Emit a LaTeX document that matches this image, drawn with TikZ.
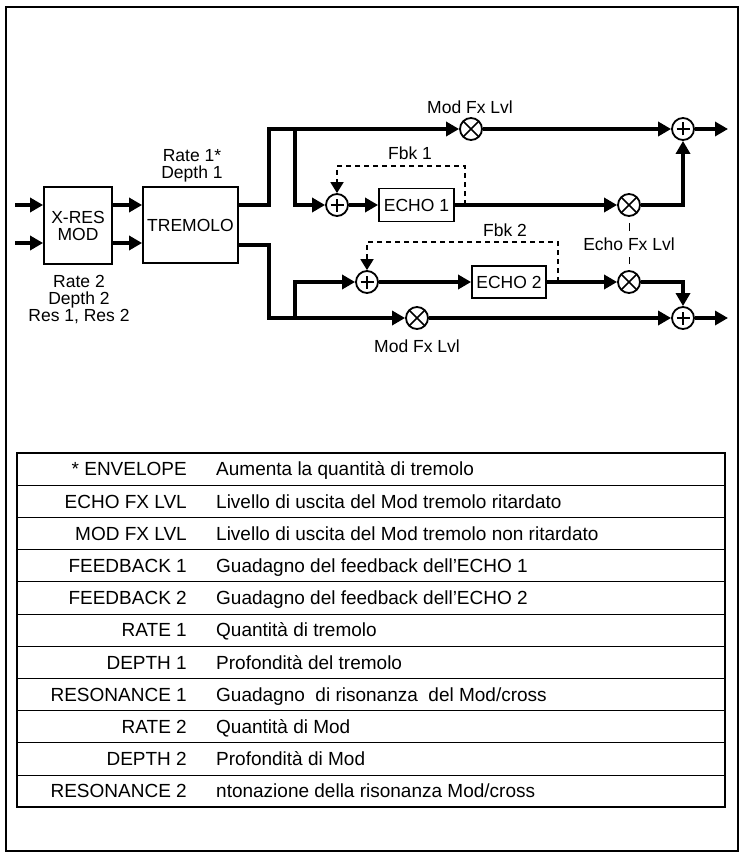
\documentclass[tikz,border=0pt]{standalone}
\usepackage{fontspec}
\setmainfont{Liberation Sans}
\usetikzlibrary{arrows.meta}

\begin{document}
\begin{tikzpicture}[x=1pt, y=-1pt,
    block/.style={rectangle, draw, line width=1.8pt, inner sep=0pt, align=center, font=\fontsize{17.5}{17}\selectfont},
    sumnode/.style={circle, draw, line width=1.8pt, minimum size=22pt, inner sep=0pt,
        path picture={\draw[line width=1.5pt]
            ([xshift=-6.5pt]path picture bounding box.center) -- ([xshift=6.5pt]path picture bounding box.center)
            ([yshift=-6.5pt]path picture bounding box.center) -- ([yshift=6.5pt]path picture bounding box.center);}},
    multnode/.style={circle, draw, line width=1.8pt, minimum size=22pt, inner sep=0pt,
        path picture={\draw[line width=1.5pt]
            (path picture bounding box.north west) -- (path picture bounding box.south east)
            (path picture bounding box.north east) -- (path picture bounding box.south west);}},
    txt/.style={align=center, inner sep=1pt, font=\fontsize{17.5}{17}\selectfont},
    signal/.style={line width=4pt, -{Triangle[length=13pt,width=14pt]}},
    fbk/.style={line width=1.8pt, dash pattern=on 5pt off 4pt, -{Triangle[length=11pt,width=13pt]}},
    cell/.style={inner sep=0pt, text height=13.5pt, text depth=0pt, font=\fontsize{19}{21}\selectfont}
]
    \useasboundingbox (0,0) rectangle (742,853);
    \draw[line width=2.5pt] (6,7) rectangle (738,851);

    % The processing blocks
    \node[block, minimum width=68pt, minimum height=77pt] (xres) at (78,225.5) {X-RES\\MOD};
    \node[block, minimum width=95pt, minimum height=76pt] (trem) at (190.5,225) {TREMOLO};
    \node[block, minimum width=75pt, minimum height=33pt] (e1) at (416.5,205) {ECHO 1};
    \node[block, minimum width=74pt, minimum height=32pt] (e2) at (509,282) {ECHO 2};

    % Sums and levels
    \node[sumnode] (s1) at (337,205) {};
    \node[sumnode] (s2) at (367,282) {};
    \node[sumnode] (st) at (683,129) {};
    \node[sumnode] (sb) at (683,318) {};
    \node[multnode] (mt) at (471,129) {};
    \node[multnode] (mb) at (417,318) {};
    \node[multnode] (me1) at (629,205) {};
    \node[multnode] (me2) at (629,282) {};

    % Labels
    \node[txt] (par1) at (192,165.5) {Rate 1*\\Depth 1};
    \node[txt] (par2) at (79,300) {Rate 2\\Depth 2\\Res 1, Res 2};
    \node[txt] (lmt) at (470,107) {Mod Fx Lvl};
    \node[txt] (lmb) at (417,346) {Mod Fx Lvl};
    \node[txt] (lf1) at (410,153) {Fbk 1};
    \node[txt] (lf2) at (505,230) {Fbk 2};
    \node[txt, inner sep=6pt] (lefx) at (629,244) {Echo Fx Lvl};

    % Free ends
    \coordinate (in1) at (15,205);
    \coordinate (in2) at (15,243);
    \coordinate (sp1) at (269,129);
    \coordinate (sp2) at (269,318);
    \coordinate (br1) at (295,129);
    \coordinate (br2) at (295,318);
    \coordinate (f1) at (465,205);
    \coordinate (f2) at (558,282);
    \coordinate (out1) at (728,129);
    \coordinate (out2) at (728,318);

    % Connections
    \draw[signal] (in1) -- (in1 -| xres.west);
    \draw[signal] (in2) -- (in2 -| xres.west);
    \draw[signal] (xres.east |- in1) -- (trem.west |- in1);
    \draw[signal] (xres.east |- in2) -- (trem.west |- in2);
    \draw[signal] (trem.east |- in1) -| (sp1) -- (mt);
    \draw[signal] (trem.east |- 0,245) -| (sp2) -- (mb);
    \draw[signal] (br1) |- (s1);
    \draw[signal] (br2) |- (s2);
    \draw[signal] (s1) -- (e1);
    \draw[signal] (s2) -- (e2);
    \draw[signal] (e1) -- (me1);
    \draw[signal] (e2) -- (me2);
    \draw[signal] (mt) -- (st);
    \draw[signal] (mb) -- (sb);
    \draw[signal] (me1) -| (st);
    \draw[signal] (me2) -| (sb);
    \draw[signal] (st) -- (out1);
    \draw[signal] (sb) -- (out2);

    % Feedback loops
    \draw[fbk] (f1) -- ++(0,-39) -| (s1);
    \draw[fbk] (f2) -- ++(0,-40) -| (s2);
    \draw[line width=1pt, shorten <=6pt] (me1) -- (lefx);
    \draw[line width=1pt, shorten <=6pt] (me2) -- (lefx);

    % Parameter table
    \draw[line width=2.4pt] (17,453) rectangle (725,807);
    \foreach \i in {1,...,10}
        \draw[line width=1pt] (17,{453+\i*32.2}) -- (725,{453+\i*32.2});
    \foreach \key/\desc [count=\r] in {
        {* ENVELOPE}/{Aumenta la quantità di tremolo},
        {ECHO FX LVL}/{Livello di uscita del Mod tremolo ritardato},
        {MOD FX LVL}/{Livello di uscita del Mod tremolo non ritardato},
        {FEEDBACK 1}/{Guadagno del feedback dell’ECHO 1},
        {FEEDBACK 2}/{Guadagno del feedback dell’ECHO 2},
        {RATE 1}/{Quantità di tremolo},
        {DEPTH 1}/{Profondità del tremolo},
        {RESONANCE 1}/{Guadagno\ \ di risonanza\ \ del Mod/cross},
        {RATE 2}/{Quantità di Mod},
        {DEPTH 2}/{Profondità di Mod},
        {RESONANCE 2}/{ntonazione della risonanza Mod/cross}} {
        \node[cell, anchor=east] (k\r) at (187,{453+(\r-0.5)*32.2}) {\key};
        \node[cell, anchor=west] (d\r) at (216,{453+(\r-0.5)*32.2}) {\desc};
    }
\end{tikzpicture}
\end{document}
